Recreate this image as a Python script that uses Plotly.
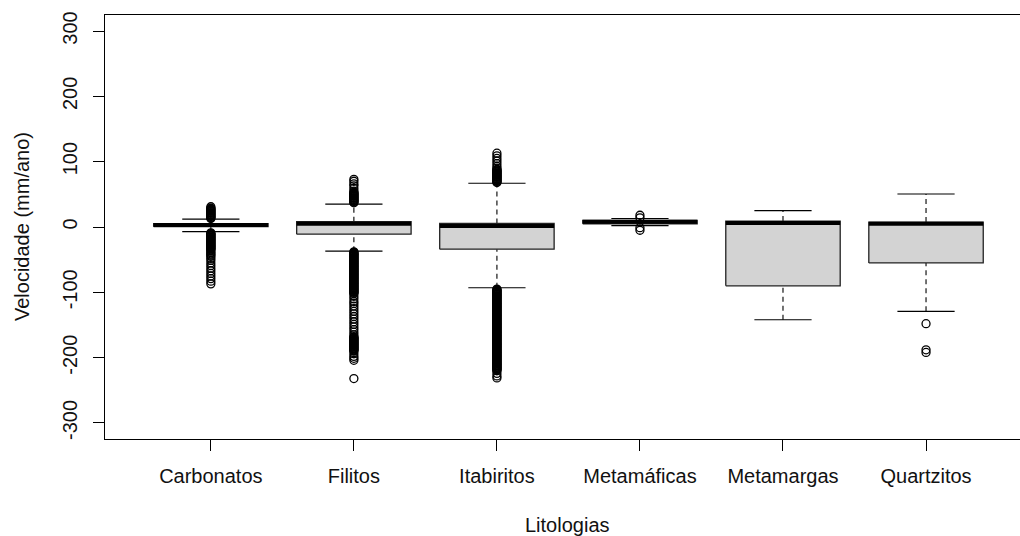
import plotly.graph_objects as go

# ---------------- data ----------------
categories = ["Carbonatos", "Filitos", "Itabiritos", "Metamáficas", "Metamargas", "Quartzitos"]
positions = [1, 2, 3, 4, 5, 6]
lower_whisker = [-7, -37, -93, 2, -142, -129]
q1 = [0.5, -11, -34, 5, -90, -55]
median = [3, 5, 1.5, 8, 6, 5]
q3 = [5, 8, 5.5, 10, 9, 7.5]
upper_whisker = [12, 35, 67, 13, 25, 50.5]

out_carbonatos = [13, 14, 15, 16, 17, 18, 19, 20, 21, 22, 23, 24, 25, 26, 27, 28, 29, 31,
                  -9, -10, -11, -12, -13, -14, -15, -16, -17, -18, -19, -20, -21, -22,
                  -23, -24, -25, -26, -27, -28, -29, -30, -31, -32, -33, -34, -35,
                  -37, -39, -41, -43, -45, -48, -51, -55, -59, -63, -67, -71, -75, -79,
                  -83, -87]
out_filitos = [37, 38, 39, 40, 41, 42, 43, 44, 45, 46, 47, 48, 49, 50, 51, 52, 53, 55,
               59, 63, 66, 70, 73,
               -38, -39, -40, -41, -42, -43, -44, -45, -46, -47, -48, -49, -50, -51,
               -52, -53, -54, -55, -56, -57, -58, -59, -60, -61, -62, -63, -64, -65,
               -66, -67, -68, -69, -70, -71, -72, -73, -74, -75, -76, -77, -78, -79,
               -80, -81, -82, -83, -84, -85, -86, -87, -88, -89, -90, -91, -92, -93,
               -94, -95, -96, -97, -98, -99, -100, -101, -102, -106, -110, -114, -117,
               -121, -125, -129, -133, -137, -141, -145, -149, -153, -157, -161, -165,
               -168, -169, -170, -171, -172, -173, -174, -175, -176, -177, -178, -179,
               -180, -181, -182, -183, -184, -185, -186, -187, -188, -189, -190, -194,
               -198, -201, -204, -232]
out_itabiritos = [68, 69, 70, 71, 72, 73, 74, 75, 76, 77, 78, 79, 80, 81, 82, 83, 84,
                  85, 86, 87, 88, 90, 93, 97, 101, 105, 109, 113,
                  -95, -96, -97, -98, -99, -100, -101, -102, -103, -104, -105, -106,
                  -107, -108, -109, -110, -111, -112, -113, -114, -115, -116, -117,
                  -118, -119, -120, -121, -122, -123, -124, -125, -126, -127, -128,
                  -129, -130, -131, -132, -133, -134, -135, -136, -137, -138, -139,
                  -140, -141, -142, -143, -144, -145, -146, -147, -148, -149, -150,
                  -151, -152, -153, -154, -155, -156, -157, -158, -159, -160, -161,
                  -162, -163, -164, -165, -166, -167, -168, -169, -170, -171, -172,
                  -173, -174, -175, -176, -177, -178, -179, -180, -181, -182, -183,
                  -184, -185, -186, -187, -188, -189, -190, -191, -192, -193, -194,
                  -195, -196, -197, -198, -199, -200, -201, -202, -203, -204, -205,
                  -206, -207, -208, -209, -210, -211, -212, -213, -214, -215, -216,
                  -217, -218, -219, -220, -224, -228, -231]
out_metamaficas = [14, 18, -1, -5]
out_metamargas = []
out_quartzitos = [-148, -188, -192]
outliers = [out_carbonatos, out_filitos, out_itabiritos,
            out_metamaficas, out_metamargas, out_quartzitos]

y_ticks = [-300, -200, -100, 0, 100, 200, 300]
y_tick_text = ["-300", "-200", "-100", "0", "100", "200", "300"]

# ---------------- style ----------------
BOXW = 0.8
STAPLE = 0.4
FONT = "Liberation Sans, Arial, sans-serif"
INK = "#000000"

fig = go.Figure()

# whiskers (dashed)
wx, wy = [], []
for p, lo, a, b, hi in zip(positions, lower_whisker, q1, q3, upper_whisker):
    wx += [p, p, None, p, p, None]
    wy += [lo, a, None, b, hi, None]
fig.add_trace(go.Scatter(x=wx, y=wy, mode="lines",
                         line=dict(color=INK, width=1.1, dash="5px,4px"),
                         hoverinfo="skip", showlegend=False))

# staples
sx, sy = [], []
for p, lo, hi in zip(positions, lower_whisker, upper_whisker):
    sx += [p - STAPLE / 2, p + STAPLE / 2, None, p - STAPLE / 2, p + STAPLE / 2, None]
    sy += [lo, lo, None, hi, hi, None]
fig.add_trace(go.Scatter(x=sx, y=sy, mode="lines",
                         line=dict(color=INK, width=1.2),
                         hoverinfo="skip", showlegend=False))

# boxes
for p, a, b in zip(positions, q1, q3):
    fig.add_trace(go.Scatter(
        x=[p - BOXW / 2, p + BOXW / 2, p + BOXW / 2, p - BOXW / 2, p - BOXW / 2],
        y=[a, a, b, b, a], mode="lines", fill="toself",
        fillcolor="#d3d3d3", line=dict(color="#222222", width=1.3),
        hoverinfo="skip", showlegend=False))

# medians
mx, my = [], []
for p, m in zip(positions, median):
    mx += [p - BOXW / 2, p + BOXW / 2, None]
    my += [m, m, None]
fig.add_trace(go.Scatter(x=mx, y=my, mode="lines",
                         line=dict(color=INK, width=4),
                         hoverinfo="skip", showlegend=False))

# outliers
ox, oy = [], []
for p, vals in zip(positions, outliers):
    ox += [p] * len(vals)
    oy += list(vals)
fig.add_trace(go.Scatter(x=ox, y=oy, mode="markers",
                         marker=dict(symbol="circle-open", size=8, color=INK,
                                     line=dict(width=1.3, color=INK)),
                         hoverinfo="skip", showlegend=False))

fig.update_layout(
    width=1020, height=536,
    margin=dict(l=105, r=0, t=15, b=97),
    paper_bgcolor="white", plot_bgcolor="white",
    font=dict(family=FONT, size=20, color="#111111"),
    xaxis=dict(range=[0.26, 6.657], tickmode="array", tickvals=positions,
               ticktext=categories, ticks="outside", ticklen=11, tickwidth=1.2,
               tickcolor=INK, showline=True, linecolor=INK, linewidth=1.4,
               mirror=True, showgrid=False, zeroline=False,
               ticklabelstandoff=8),
    yaxis=dict(range=[-324.5, 324.5], tickmode="array", tickvals=y_ticks,
               ticktext=y_tick_text, tickangle=-90, ticks="outside", ticklen=11,
               tickwidth=1.2, tickcolor=INK, showline=True, linecolor=INK,
               linewidth=1.4, mirror=False, showgrid=False, zeroline=False,
               ticklabelstandoff=8),
    annotations=[
        dict(text="Litologias", xref="paper", yref="paper", x=0.505, y=0,
             xanchor="center", yanchor="middle", yshift=-86, showarrow=False,
             font=dict(family=FONT, size=20, color="#111111")),
        dict(text="Velocidade (mm/ano)", xref="paper", yref="paper", x=0, y=0.5,
             xanchor="center", yanchor="middle", xshift=-83, textangle=-90,
             showarrow=False, font=dict(family=FONT, size=20, color="#111111")),
    ],
)

fig.write_html("out.html")
